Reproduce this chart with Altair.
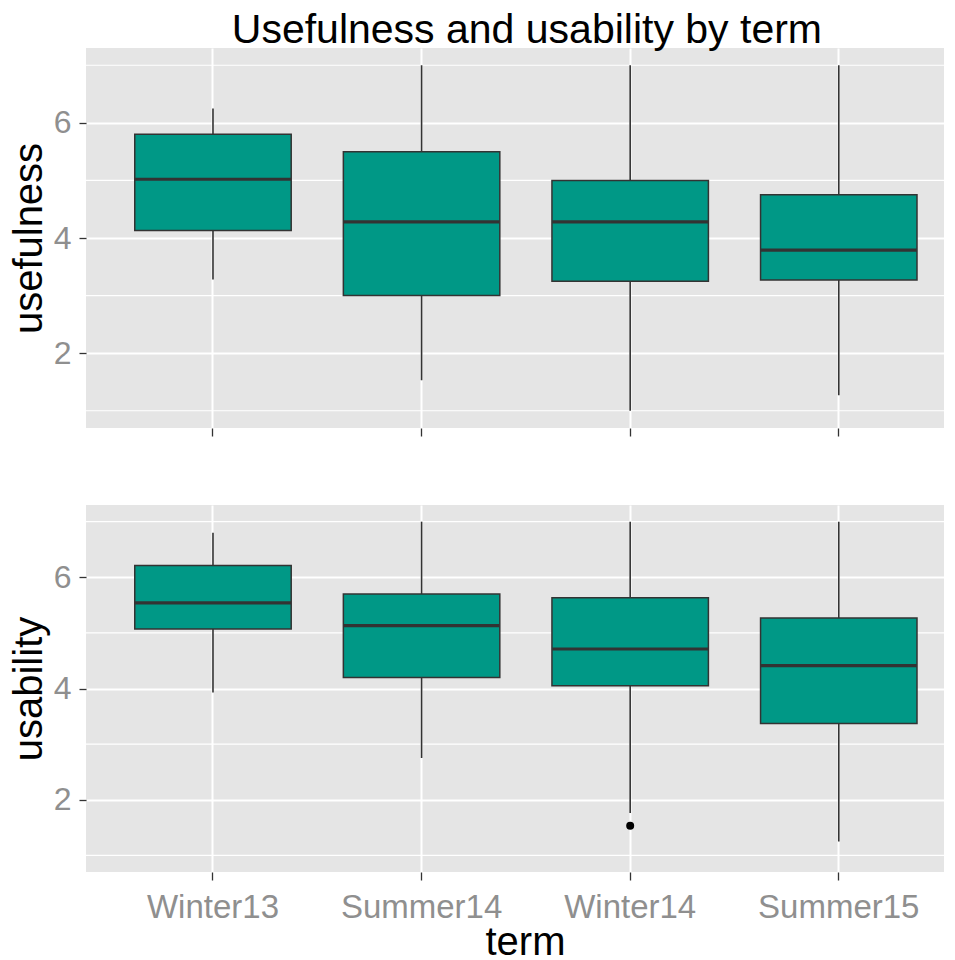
import altair as alt
import pandas as pd

terms = ["Winter13", "Summer14", "Winter14", "Summer15"]

# usefulness box statistics
useful_lo = [3.28, 1.53, 1.0, 1.27]
useful_q1 = [4.13, 3.0, 3.25, 3.27]
useful_med = [5.02, 4.28, 4.28, 3.79]
useful_q3 = [5.80, 5.50, 5.0, 4.75]
useful_hi = [6.25, 7.0, 7.0, 7.0]

# usability box statistics
usab_lo = [3.93, 2.75, 1.76, 1.25]
usab_q1 = [5.07, 4.2, 4.05, 3.37]
usab_med = [5.54, 5.13, 4.71, 4.41]
usab_q3 = [6.21, 5.70, 5.63, 5.27]
usab_hi = [6.8, 7.0, 7.0, 7.0]

usab_out_term = ["Winter14"]
usab_out_val = [1.53]

minor_breaks = [1, 3, 5, 7]
major_breaks = [2, 4, 6]

FONT = "Liberation Sans"
FILL = "#009886"
BG = "#E5E5E5"
DARK = "#333333"
LABEL = "#8F8F8F"
W = 858


def panel(lo, q1, med, q3, hi, ytitle, height, bottom, out_terms=None, out_vals=None):
    df = pd.DataFrame(dict(term=terms, lo=lo, q1=q1, med=med, q3=q3, hi=hi))
    yscale = alt.Scale(domain=[0.7, 7.3], nice=False, zero=False)
    xscale = alt.Scale(domain=terms, paddingInner=0.25, paddingOuter=0.1816, align=0.6436)
    if bottom:
        xaxis = alt.Axis(title="term", labelFontSize=33, labelColor=LABEL, labelAngle=0,
                         titleFontSize=40, titleColor="black", titleFontWeight="normal",
                         labelPadding=11, titlePadding=-2, titleX=439,
                         labelFont=FONT, titleFont=FONT)
    else:
        xaxis = alt.Axis(title=None, labels=False)
    yaxis = alt.Axis(title=ytitle, values=major_breaks, labelFontSize=32, labelColor=LABEL,
                     titleFontSize=40, titleColor="black", titleFontWeight="normal",
                     labelPadding=8, titlePadding=4, labelFont=FONT, titleFont=FONT)
    X = lambda: alt.X("term:N", scale=xscale, axis=xaxis, sort=terms)
    minor = pd.DataFrame({"v": minor_breaks})
    grid_minor = alt.Chart(minor).mark_rule(color="white", strokeWidth=1.2).encode(
        y=alt.Y("v:Q", scale=yscale, axis=yaxis))
    whisk = alt.Chart(df).mark_rule(color=DARK, strokeWidth=1.6).encode(
        x=X(), y=alt.Y("lo:Q", scale=yscale, axis=yaxis), y2="hi:Q")
    box = alt.Chart(df).mark_bar(fill=FILL, stroke=DARK, strokeWidth=1.5).encode(
        x=X(), y=alt.Y("q1:Q", scale=yscale, axis=yaxis), y2="q3:Q")
    medl = alt.Chart(df).mark_tick(color=DARK, thickness=3.2, size=156, opacity=1).encode(
        x=X(), y=alt.Y("med:Q", scale=yscale, axis=yaxis))
    layers = [grid_minor, whisk, box, medl]
    if out_terms:
        odf = pd.DataFrame({"term": out_terms, "val": out_vals})
        pts = alt.Chart(odf).mark_circle(color="black", size=64, opacity=1).encode(
            x=X(), y=alt.Y("val:Q", scale=yscale, axis=yaxis))
        layers.append(pts)
    return alt.layer(*layers).properties(width=W, height=height)


top = panel(useful_lo, useful_q1, useful_med, useful_q3, useful_hi, "usefulness", 380, False)
bot = panel(usab_lo, usab_q1, usab_med, usab_q3, usab_hi, "usability", 367, True,
            usab_out_term, usab_out_val)

chart = alt.vconcat(top, bot, spacing=68).properties(
    title=alt.TitleParams("Usefulness and usability by term", fontSize=41, font=FONT,
                          fontWeight="normal", color="black", anchor="middle",
                          baseline="top", offset=-4, dx=50),
    padding={"left": 1, "top": 2, "right": 0, "bottom": 0},
).configure_view(fill=BG, strokeWidth=0).configure_axis(
    grid=True, gridColor="white", gridWidth=2, domain=False,
    tickColor=DARK, tickWidth=1.3, tickSize=7,
).configure_axisX(bandPosition=0.5, tickSize=8)

chart.save("out.html", embed_options={"renderer": "svg", "actions": False})
